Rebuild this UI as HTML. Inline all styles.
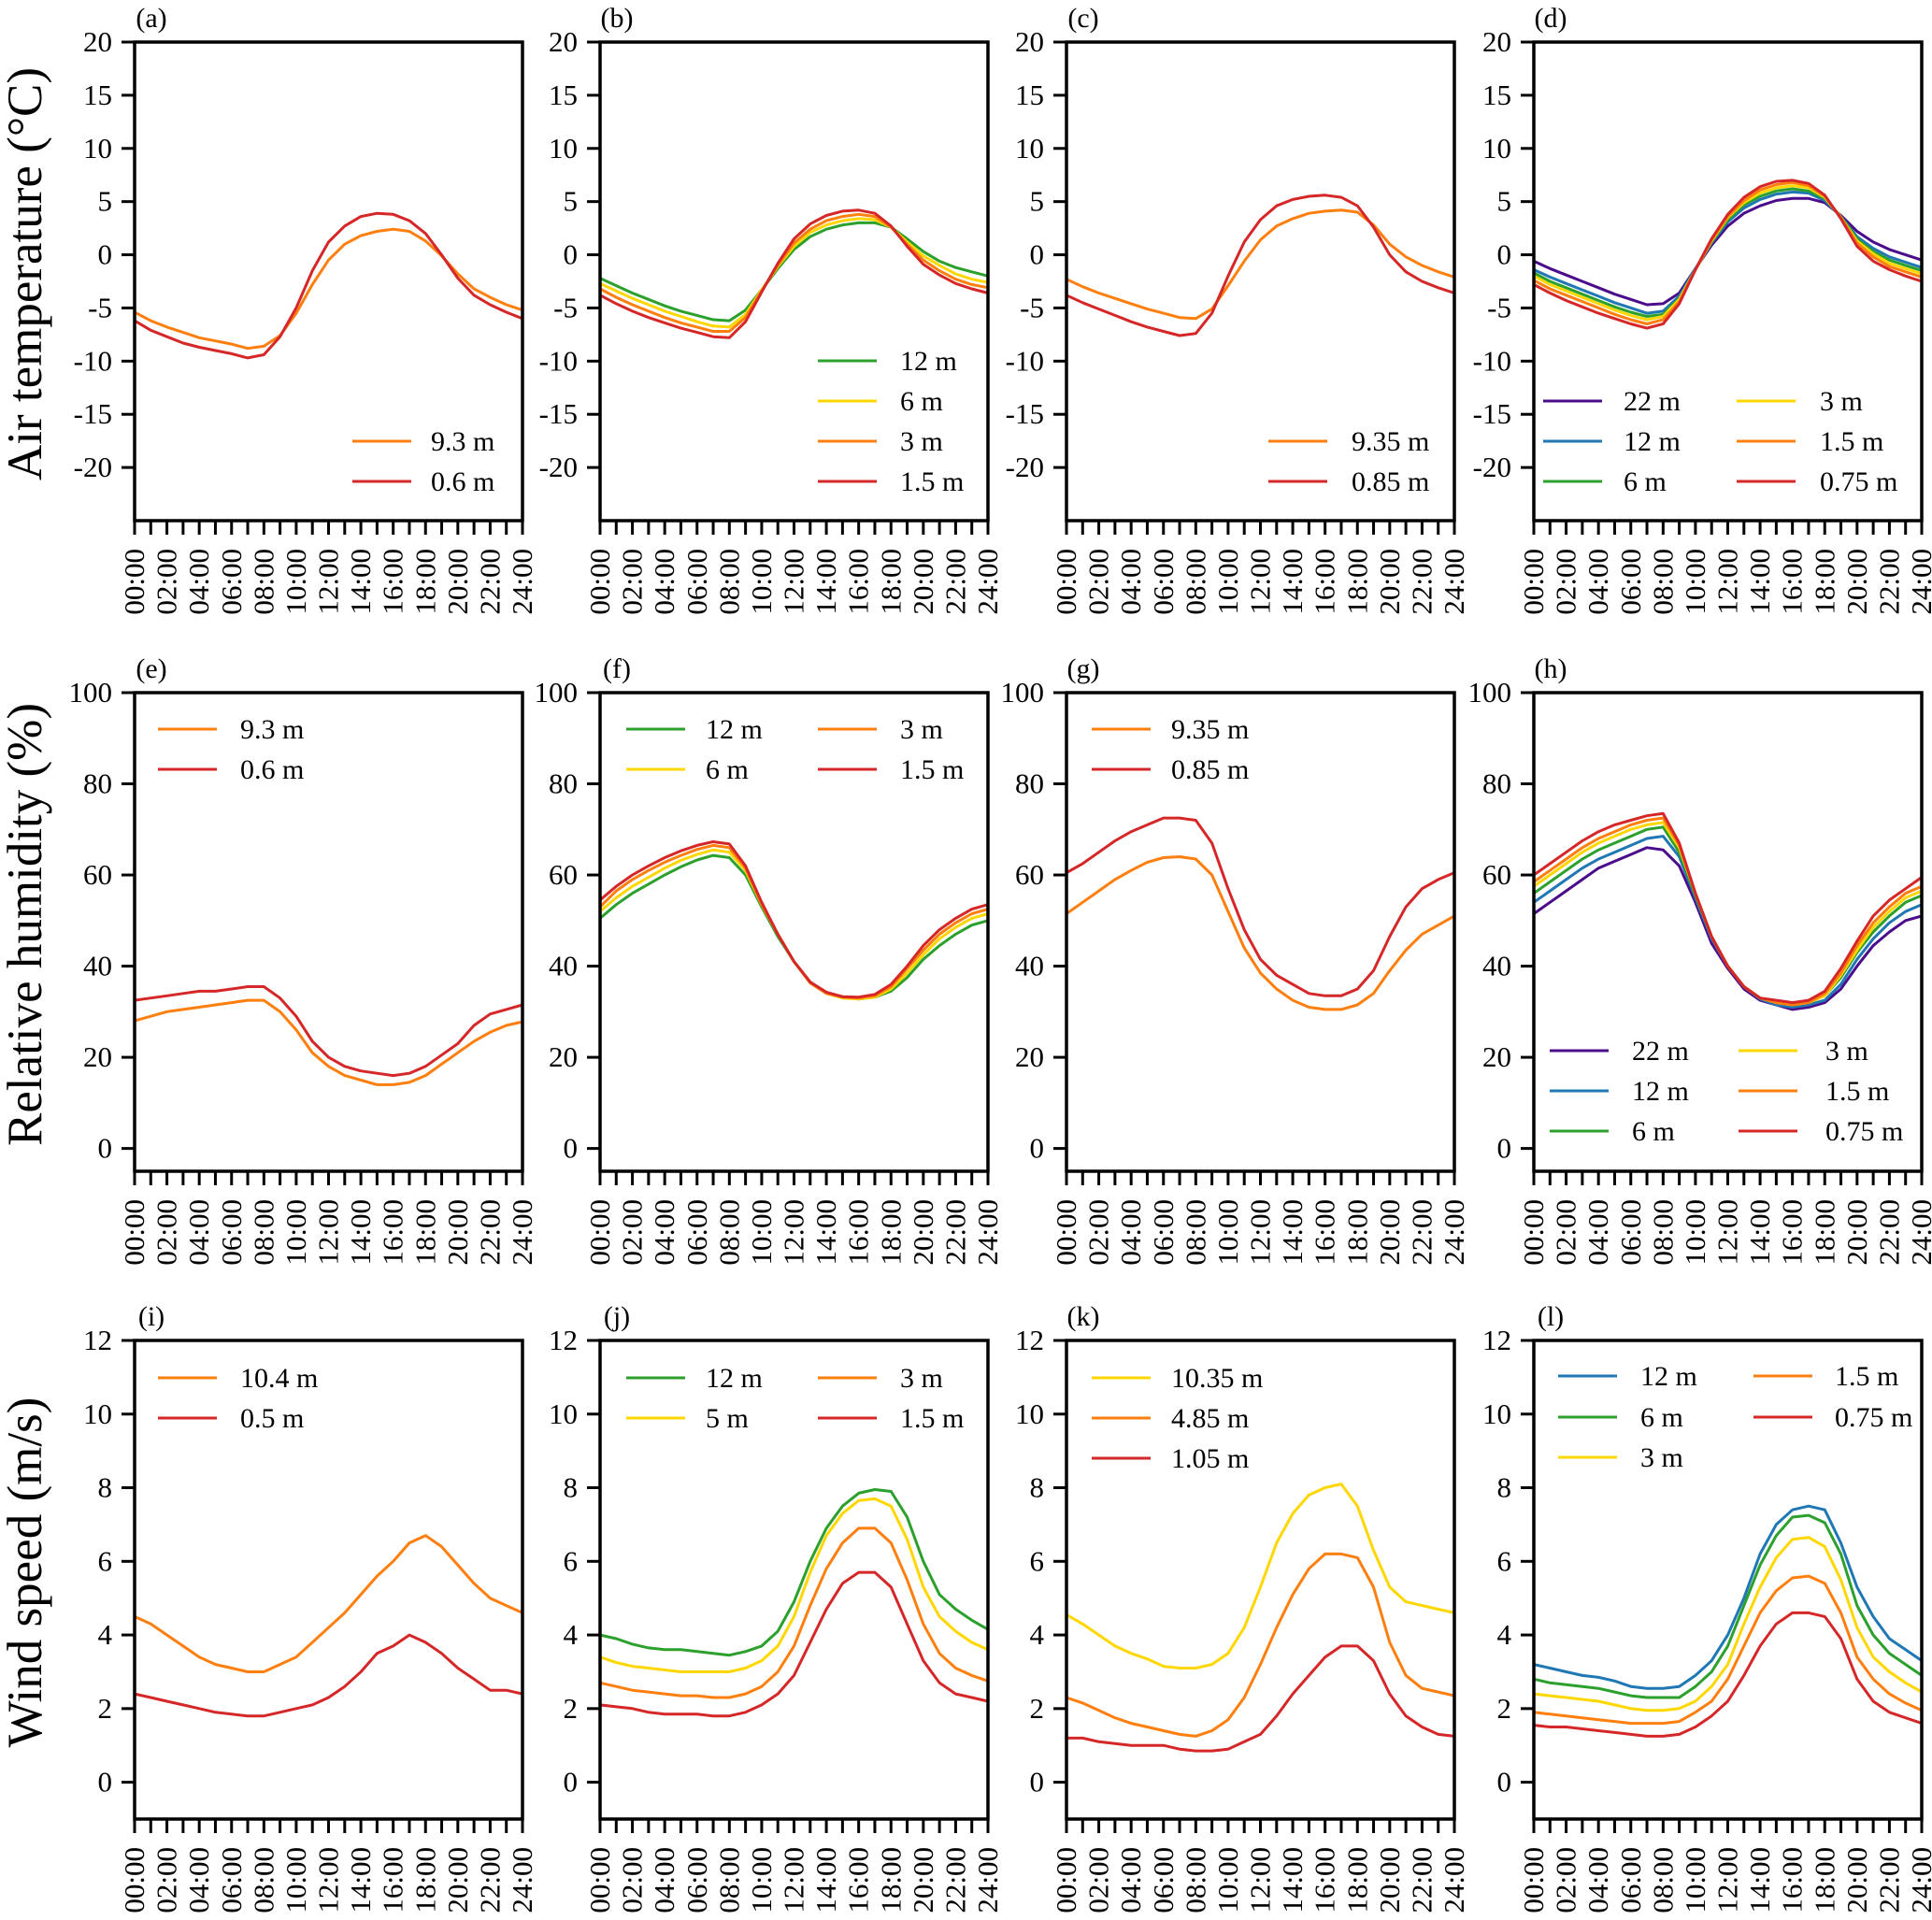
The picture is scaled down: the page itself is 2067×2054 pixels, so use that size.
<!DOCTYPE html>
<html><head><meta charset="utf-8"><style>
html,body{margin:0;padding:0;background:#fff;}
svg{display:block;font-family:"Liberation Serif","Times New Roman",serif;}
</style></head><body>
<svg id="fig" width="2067" height="2054" viewBox="0 0 2067 2054" xmlns="http://www.w3.org/2000/svg"></svg>
<script>
// ---- data ----
const hours = [0,1,2,3,4,5,6,7,8,9,10,11,12,13,14,15,16,17,18,19,20,21,22,23,24];
const xTickLabels = ["00:00","02:00","04:00","06:00","08:00","10:00","12:00","14:00","16:00","18:00","20:00","22:00","24:00"];
const tempTicks = [20,15,10,5,0,-5,-10,-15,-20];
const rhTicks = [100,80,60,40,20,0];
const windTicks = [12,10,8,6,4,2,0];

const a_h9_3 = [-5.4,-6.2,-6.8,-7.3,-7.8,-8.1,-8.4,-8.8,-8.6,-7.6,-5.5,-2.8,-0.5,1.0,1.8,2.2,2.4,2.2,1.3,-0.1,-1.8,-3.2,-4.0,-4.7,-5.2];
const a_h0_6 = [-6.2,-7.1,-7.7,-8.3,-8.7,-9.0,-9.3,-9.7,-9.4,-7.7,-5.0,-1.5,1.2,2.7,3.6,3.9,3.8,3.2,2.0,0.0,-2.2,-3.8,-4.7,-5.4,-6.0];

const b_h12 = [-2.2,-2.9,-3.6,-4.2,-4.8,-5.3,-5.7,-6.1,-6.2,-5.2,-3.3,-1.3,0.5,1.7,2.4,2.8,3.0,3.0,2.6,1.5,0.3,-0.6,-1.2,-1.6,-2.0];
const b_h6 = [-2.7,-3.4,-4.1,-4.7,-5.3,-5.8,-6.3,-6.7,-6.8,-5.6,-3.3,-1.1,0.8,2.1,2.8,3.2,3.4,3.3,2.6,1.2,-0.1,-1.0,-1.8,-2.3,-2.6];
const b_h3 = [-3.2,-4.0,-4.7,-5.3,-5.9,-6.4,-6.8,-7.2,-7.2,-5.9,-3.4,-1.0,1.1,2.4,3.2,3.6,3.8,3.6,2.6,1.0,-0.5,-1.5,-2.3,-2.8,-3.1];
const b_h1_5 = [-3.8,-4.6,-5.3,-5.9,-6.4,-6.9,-7.3,-7.7,-7.8,-6.3,-3.5,-0.8,1.5,2.9,3.7,4.1,4.2,3.9,2.7,0.8,-0.9,-1.9,-2.7,-3.2,-3.6];

const c_h9_35 = [-2.3,-3.0,-3.6,-4.1,-4.6,-5.1,-5.5,-5.9,-6.0,-5.1,-2.9,-0.6,1.4,2.7,3.4,3.9,4.1,4.2,4.0,2.8,1.0,-0.2,-1.0,-1.6,-2.1];
const c_h0_85 = [-3.8,-4.5,-5.1,-5.7,-6.3,-6.8,-7.2,-7.6,-7.4,-5.5,-2.0,1.2,3.3,4.6,5.2,5.5,5.6,5.4,4.6,2.6,0.0,-1.6,-2.5,-3.1,-3.6];

const d_h22 = [-0.6,-1.3,-1.9,-2.5,-3.1,-3.7,-4.2,-4.7,-4.6,-3.6,-1.3,0.9,2.7,3.9,4.6,5.1,5.3,5.3,4.9,3.7,2.2,1.2,0.5,0.0,-0.5];
const d_h12 = [-1.4,-2.1,-2.7,-3.3,-3.9,-4.5,-5.0,-5.5,-5.3,-3.9,-1.3,1.1,3.1,4.4,5.2,5.7,5.9,5.8,5.1,3.6,1.7,0.6,-0.2,-0.7,-1.2];
const d_h6 = [-1.7,-2.5,-3.1,-3.7,-4.3,-4.9,-5.4,-5.8,-5.6,-4.1,-1.4,1.2,3.3,4.7,5.5,6.0,6.2,6.0,5.3,3.6,1.5,0.3,-0.5,-1.0,-1.5];
const d_h3 = [-2.0,-2.8,-3.4,-4.0,-4.6,-5.2,-5.7,-6.1,-5.8,-4.2,-1.4,1.3,3.5,4.9,5.8,6.3,6.5,6.3,5.4,3.5,1.3,0.1,-0.8,-1.3,-1.8];
const d_h1_5 = [-2.4,-3.2,-3.8,-4.4,-5.0,-5.6,-6.1,-6.5,-6.1,-4.4,-1.4,1.4,3.6,5.1,6.1,6.6,6.8,6.5,5.5,3.5,1.1,-0.2,-1.1,-1.6,-2.1];
const d_h0_75 = [-2.8,-3.6,-4.3,-4.9,-5.5,-6.0,-6.5,-6.9,-6.5,-4.6,-1.4,1.5,3.8,5.4,6.4,6.9,7.0,6.7,5.6,3.4,0.8,-0.6,-1.4,-2.0,-2.5];

const e_h9_3 = [28,29,30,30.5,31,31.5,32,32.5,32.5,30,26,21,18,16,15,14,14,14.5,16,18.5,21,23.5,25.5,27,27.8];
const e_h0_6 = [32.5,33,33.5,34,34.5,34.5,35,35.5,35.5,33,29,23.5,20,18,17,16.5,16,16.5,18,20.5,23,27,29.5,30.5,31.5];

const f_h12 = [50.5,53.5,56,58,60,61.8,63.3,64.3,63.8,60,53,46.5,41,36.5,34.2,33.2,32.8,33.2,34.5,37.5,41.5,44.5,47,49,50];
const f_h6 = [52,55,57.5,59.5,61.5,63.2,64.5,65.5,65,61,53.5,47,41,36.5,34,33,32.8,33.2,35,38.5,42.5,46,48.5,50.5,51.5];
const f_h3 = [53,56.5,59,61,62.8,64.3,65.6,66.5,66,61.5,53.5,47,41,36.3,34,33.2,33,33.5,35.5,39.5,43.5,47,49.5,51.5,52.5];
const f_h1_5 = [54.5,57.5,60,62,63.8,65.3,66.5,67.3,66.8,62,54,47,41,36.5,34.3,33.3,33.2,33.8,36,40,44.5,48,50.5,52.5,53.5];

const g_h9_35 = [51.5,54,56.5,59,61,62.8,63.8,64,63.5,60,52,44,38.5,35,32.5,31,30.5,30.5,31.5,34,39,43.5,47,49,51];
const g_h0_85 = [60.5,62.5,65,67.5,69.5,71,72.5,72.5,72,67,57,48,41.5,38,36,34,33.5,33.5,35,39,46.5,53,57,59,60.5];

const h_h22 = [51.5,54,56.5,59,61.5,63,64.5,66,65.5,62,54,45,39.5,35,32.5,31.5,30.5,31,32,35,40,44.5,47.5,50,51];
const h_h12 = [54,56.5,59,61.5,63.5,65,66.5,68,68.5,64,55,46,40,35.5,32.8,31.5,31,31.5,32.5,36,41.5,46,49.5,52,53.5];
const h_h6 = [56,58.5,61,63.5,65.5,67,68.5,70,70.5,65,55.5,46.5,40,35.5,33,32,31.5,32,33.5,37.5,43,47.5,51,54,55.5];
const h_h3 = [57.5,60,62.5,65,67,68.5,70,71,71.5,66,56,46.5,40,35.5,33,32,31.5,32,33.5,38,43.5,48.5,52,55,56.5];
const h_h1_5 = [58.5,61,63.5,66,68,69.5,71,72,72.5,66.5,56,46.5,40,35.5,33,32,31.5,32,34,38.5,44.5,49.5,53,56,57.5];
const h_h0_75 = [60,62.5,65,67.5,69.5,71,72,73,73.5,67,56,46.5,40,35.5,33,32.5,32,32.5,34.5,39.5,45.5,51,54.5,57,59.5];

const i_h10_4 = [4.5,4.3,4.0,3.7,3.4,3.2,3.1,3.0,3.0,3.2,3.4,3.8,4.2,4.6,5.1,5.6,6.0,6.5,6.7,6.4,5.9,5.4,5.0,4.8,4.6];
const i_h0_5 = [2.4,2.3,2.2,2.1,2.0,1.9,1.85,1.8,1.8,1.9,2.0,2.1,2.3,2.6,3.0,3.5,3.7,4.0,3.8,3.5,3.1,2.8,2.5,2.5,2.4];

const j_h12 = [4.0,3.9,3.75,3.65,3.6,3.6,3.55,3.5,3.45,3.55,3.7,4.1,4.9,6.0,6.9,7.5,7.85,7.95,7.9,7.2,6.0,5.1,4.7,4.4,4.15];
const j_h5 = [3.4,3.25,3.15,3.1,3.05,3.0,3.0,3.0,3.0,3.1,3.3,3.7,4.5,5.7,6.7,7.3,7.65,7.7,7.5,6.6,5.3,4.5,4.1,3.8,3.6];
const j_h3 = [2.7,2.6,2.5,2.45,2.4,2.35,2.35,2.3,2.3,2.4,2.6,3.0,3.7,4.8,5.8,6.5,6.9,6.9,6.5,5.5,4.3,3.5,3.1,2.9,2.75];
const j_h1_5 = [2.1,2.05,2.0,1.9,1.85,1.85,1.85,1.8,1.8,1.9,2.1,2.4,2.9,3.8,4.7,5.4,5.7,5.7,5.3,4.3,3.3,2.7,2.4,2.3,2.2];

const k_h10_35 = [4.55,4.3,4.0,3.7,3.5,3.35,3.15,3.1,3.1,3.2,3.5,4.2,5.3,6.5,7.3,7.8,8.0,8.1,7.5,6.3,5.3,4.9,4.8,4.7,4.6];
const k_h4_85 = [2.3,2.15,1.95,1.75,1.6,1.5,1.4,1.3,1.25,1.4,1.7,2.3,3.2,4.2,5.1,5.8,6.2,6.2,6.1,5.3,3.8,2.9,2.55,2.45,2.35];
const k_h1_05 = [1.2,1.2,1.1,1.05,1.0,1.0,1.0,0.9,0.85,0.85,0.9,1.1,1.3,1.8,2.4,2.9,3.4,3.7,3.7,3.3,2.4,1.8,1.5,1.3,1.25];

const l_h12 = [3.2,3.1,3.0,2.9,2.85,2.75,2.6,2.55,2.55,2.6,2.9,3.3,4.0,5.0,6.2,7.0,7.4,7.5,7.4,6.5,5.3,4.5,3.9,3.6,3.3];
const l_h6 = [2.8,2.7,2.65,2.6,2.55,2.45,2.35,2.3,2.3,2.3,2.6,3.0,3.7,4.8,5.9,6.7,7.2,7.25,7.05,6.2,4.8,4.0,3.5,3.2,2.9];
const l_h3 = [2.4,2.35,2.3,2.25,2.2,2.1,2.0,1.95,1.95,2.0,2.2,2.6,3.2,4.3,5.3,6.1,6.6,6.65,6.4,5.5,4.2,3.4,3.0,2.7,2.45];
const l_h1_5 = [1.9,1.85,1.8,1.75,1.7,1.65,1.6,1.6,1.6,1.65,1.9,2.2,2.8,3.7,4.6,5.2,5.55,5.6,5.4,4.6,3.4,2.8,2.4,2.15,1.95];
const l_h0_75 = [1.55,1.5,1.5,1.45,1.4,1.35,1.3,1.25,1.25,1.3,1.5,1.8,2.2,2.9,3.7,4.3,4.6,4.6,4.5,3.9,2.8,2.2,1.9,1.75,1.6];

// ---- layout ----
const C = {purple:"#4b0c8c",blue:"#1f77b4",green:"#2ca02c",yellow:"#ffd700",orange:"#ff7f0e",red:"#d62728"};
const colX = [144, 642, 1141, 1641];
const rowY = [45, 741, 1434];
const W = 415, H = 512;
const NS = "http://www.w3.org/2000/svg";
const svg = document.getElementById("fig");
function mk(tag, attrs, parent){ const e=document.createElementNS(NS,tag); for(const k in attrs) e.setAttribute(k,attrs[k]); (parent||svg).appendChild(e); return e; }

const rows = [
 {ymin:-25,ymax:20,ticks:tempTicks,title:"Air temperature (°C)"},
 {ymin:-5,ymax:100,ticks:rhTicks,title:"Relative humidity (%)"},
 {ymin:-1,ymax:12,ticks:windTicks,title:"Wind speed (m/s)"}
];
const panels = [
 {r:0,c:0,lab:"(a)",series:[[a_h9_3,"orange","9.3 m"],[a_h0_6,"red","0.6 m"]],leg:{lx:[377],tx:[461],ys:[472,515],cols:[[0,1]]}},
 {r:0,c:1,lab:"(b)",series:[[b_h12,"green","12 m"],[b_h6,"yellow","6 m"],[b_h3,"orange","3 m"],[b_h1_5,"red","1.5 m"]],leg:{lx:[875],tx:[963],ys:[386,429,472,515],cols:[[0,1,2,3]]}},
 {r:0,c:2,lab:"(c)",series:[[c_h9_35,"orange","9.35 m"],[c_h0_85,"red","0.85 m"]],leg:{lx:[1357],tx:[1446],ys:[472,515],cols:[[0,1]]}},
 {r:0,c:3,lab:"(d)",series:[[d_h22,"purple","22 m"],[d_h12,"blue","12 m"],[d_h6,"green","6 m"],[d_h3,"yellow","3 m"],[d_h1_5,"orange","1.5 m"],[d_h0_75,"red","0.75 m"]],leg:{lx:[1651,1858],tx:[1737,1947],ys:[429,472,515],cols:[[0,1,2],[3,4,5]]}},
 {r:1,c:0,lab:"(e)",series:[[e_h9_3,"orange","9.3 m"],[e_h0_6,"red","0.6 m"]],leg:{lx:[169],tx:[257],ys:[780,823],cols:[[0,1]]}},
 {r:1,c:1,lab:"(f)",series:[[f_h12,"green","12 m"],[f_h6,"yellow","6 m"],[f_h3,"orange","3 m"],[f_h1_5,"red","1.5 m"]],leg:{lx:[670,875],tx:[755,963],ys:[780,823],cols:[[0,1],[2,3]]}},
 {r:1,c:2,lab:"(g)",series:[[g_h9_35,"orange","9.35 m"],[g_h0_85,"red","0.85 m"]],leg:{lx:[1168],tx:[1253],ys:[780,823],cols:[[0,1]]}},
 {r:1,c:3,lab:"(h)",series:[[h_h22,"purple","22 m"],[h_h12,"blue","12 m"],[h_h6,"green","6 m"],[h_h3,"yellow","3 m"],[h_h1_5,"orange","1.5 m"],[h_h0_75,"red","0.75 m"]],leg:{lx:[1658,1860],tx:[1746,1953],ys:[1124,1167,1210],cols:[[0,1,2],[3,4,5]]}},
 {r:2,c:0,lab:"(i)",series:[[i_h10_4,"orange","10.4 m"],[i_h0_5,"red","0.5 m"]],leg:{lx:[169],tx:[257],ys:[1474,1517],cols:[[0,1]]}},
 {r:2,c:1,lab:"(j)",series:[[j_h12,"green","12 m"],[j_h5,"yellow","5 m"],[j_h3,"orange","3 m"],[j_h1_5,"red","1.5 m"]],leg:{lx:[670,875],tx:[755,963],ys:[1474,1517],cols:[[0,1],[2,3]]}},
 {r:2,c:2,lab:"(k)",series:[[k_h10_35,"yellow","10.35 m"],[k_h4_85,"orange","4.85 m"],[k_h1_05,"red","1.05 m"]],leg:{lx:[1168],tx:[1253],ys:[1474,1517,1560],cols:[[0,1,2]]}},
 {r:2,c:3,lab:"(l)",series:[[l_h12,"blue","12 m"],[l_h6,"green","6 m"],[l_h3,"yellow","3 m"],[l_h1_5,"orange","1.5 m"],[l_h0_75,"red","0.75 m"]],leg:{lx:[1667,1876],tx:[1755,1963],ys:[1472,1516,1559],cols:[[0,1,2],[3,4]]}}
];

// row titles
rows.forEach((R,ri)=>{
  const cy = rowY[ri]+H/2 - 8;
  const t = mk("text",{x:0,y:0,transform:`translate(44,${cy}) rotate(-90)`,"text-anchor":"middle","font-size":"53"});
  
  
  t.textContent = R.title;
});

panels.forEach(P=>{
  const R = rows[P.r];
  const x0 = colX[P.c], y0 = rowY[P.r];
  const xs = h => x0 + (h/24)*W;
  const ys = v => y0 + (R.ymax - v)/(R.ymax-R.ymin)*H;
  const g = mk("g",{});
  
  
  const pl = mk("text",{x:x0+18,y:y0-16,"text-anchor":"middle","font-size":"30"},g);
  
  
  pl.textContent = P.lab;
  // y ticks
  R.ticks.forEach(v=>{
    const ln = mk("line",{x1:x0-14,x2:x0,y1:ys(v),y2:ys(v),stroke:"#000","stroke-width":3},g);
    
    
    const t = mk("text",{x:x0-24,y:ys(v)+10,"text-anchor":"end","font-size":"31"},g);
    
    
    t.textContent = v;
  });
  // x ticks
  hours.forEach(h=>{
    const ln = mk("line",{x1:xs(h),x2:xs(h),y1:y0+H,y2:y0+H+15,stroke:"#000","stroke-width":3},g);
    
    
  });
  xTickLabels.forEach((lab,i)=>{
    const h = i*2;
    const t = mk("text",{x:0,y:0,transform:`translate(${xs(h)+10},${y0+H+30}) rotate(-90)`,"text-anchor":"end","font-size":"31"},g);
    
    
    t.textContent = lab;
  });
  // series
  P.series.forEach(s=>{
    const d = s[0].map((v,i)=>(i?"L":"M")+xs(hours[i]).toFixed(1)+","+ys(v).toFixed(1)).join(" ");
    const p = mk("path",{d:d,fill:"none",stroke:C[s[1]],"stroke-width":3,"stroke-linejoin":"round"},g);
    
    
  });
  // frame
  const fr = mk("rect",{x:x0,y:y0,width:W,height:H,fill:"none",stroke:"#000","stroke-width":3.5},g);
  
  
  // legend
  const L = P.leg;
  L.cols.forEach((col,ci)=>{
    col.forEach((si,ri)=>{
      const s = P.series[si];
      const y = L.ys[ri];
      const ln = mk("line",{x1:L.lx[ci],x2:L.lx[ci]+63,y1:y,y2:y,stroke:C[s[1]],"stroke-width":3},g);
      
      
      const t = mk("text",{x:L.tx[ci],y:y+10,"font-size":"30"},g);
      
      
      t.textContent = s[2];
    });
  });
});
</script>
</body></html>
